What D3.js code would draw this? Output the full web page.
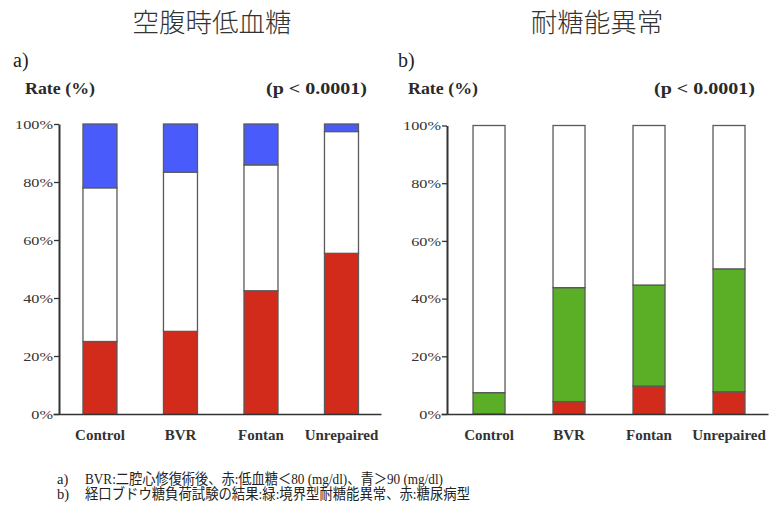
<!DOCTYPE html>
<html>
<head>
<meta charset="utf-8">
<script src="https://cdn.jsdelivr.net/npm/d3@7"></script>
<style>
  html, body { margin: 0; padding: 0; background: #fff; }
  svg { display: block; }
  .serif { font-family: "Liberation Serif", "DejaVu Serif", serif; }
  .note { font-family: "Liberation Serif", "Noto Sans CJK JP", serif; }
</style>
</head>
<body>
<svg id="chart" width="770" height="515"></svg>
<script>
// ---- data ----
const categories = ["Control", "BVR", "Fontan", "Unrepaired"];
// a) fasting hypoglycemia
const hypoLow  = [25.0, 28.5, 42.5, 55.4];   // red  < 80 mg/dl
const hypoMid  = [53.0, 54.9, 43.4, 42.0];   // white
const hypoHigh = [22.0, 16.6, 14.1, 2.6];    // blue > 90 mg/dl
// b) OGTT
const ogttDiabetic   = [0.0, 4.3, 9.7, 7.7];     // red
const ogttBorderline = [7.4, 39.5, 35.0, 42.6];  // green
const ogttNormal     = [92.6, 56.2, 55.3, 49.7]; // white
const yTicks = [0, 20, 40, 60, 80, 100];
const titles = ["空腹時低血糖", "耐糖能異常"];
const panelLabels = ["a)", "b)"];
const pText = "(p < 0.0001)";
const yLabel = "Rate (%)";
const notes = [
  ["a)", "BVR:二腔心修復術後、赤:低血糖＜80 (mg/dl)、青＞90 (mg/dl)"],
  ["b)", "経口ブドウ糖負荷試験の結果:緑:境界型耐糖能異常、赤:糖尿病型"]
];

const RED = "#d22a1b", BLUE = "#4a5bfb", GREEN = "#5aaf27", WHITE = "#ffffff";
const CJK = "Noto Sans CJK JP, Noto Sans CJK SC, sans-serif";

const svg = d3.select("#chart");

const panels = [
  {
    keys: ["low", "mid", "high"],
    colors: { low: RED, mid: WHITE, high: BLUE },
    rows: categories.map((c, i) => ({ cat: c, low: hypoLow[i], mid: hypoMid[i], high: hypoHigh[i] })),
    xRange: [53, 381], pi: 0.5776, po: 0.326, align: 0.571,
    axisX: 59, yRange: [414, 124],
    title: titles[0], titleX: 212, label: panelLabels[0], labelX: 13,
    rateX: 25, pX: 367
  },
  {
    keys: ["dia", "border", "normal"],
    colors: { dia: RED, border: GREEN, normal: WHITE },
    rows: categories.map((c, i) => ({ cat: c, dia: ogttDiabetic[i], border: ogttBorderline[i], normal: ogttNormal[i] })),
    xRange: [441, 768], pi: 0.6, po: 0.344, align: 0.582,
    axisX: 447, yRange: [414, 125.5],
    title: titles[1], titleX: 597, label: panelLabels[1], labelX: 398,
    rateX: 408, pX: 755
  }
];

panels.forEach(p => {
  const x = d3.scaleBand().domain(categories).range(p.xRange)
    .paddingInner(p.pi).paddingOuter(p.po).align(p.align);
  const y = d3.scaleLinear().domain([0, 100]).range(p.yRange);
  const series = d3.stack().keys(p.keys)(p.rows);

  // titles
  svg.append("text").attr("x", p.titleX).attr("y", 32)
    .attr("text-anchor", "middle")
    .attr("font-family", CJK).attr("font-size", 26.5).attr("font-weight", 300)
    .attr("fill", "#333").text(p.title);
  svg.append("text").attr("class", "serif").attr("x", p.labelX).attr("y", 67)
    .attr("font-size", 20).attr("fill", "#222")
    .text(p.label);
  svg.append("text").attr("class", "serif").attr("x", p.rateX).attr("y", 94)
    .attr("font-size", 16).attr("font-weight", "bold")
    .attr("textLength", 70).attr("lengthAdjust", "spacingAndGlyphs")
    .attr("fill", "#2a2a2a").text(yLabel);
  svg.append("text").attr("class", "serif").attr("x", p.pX - 101).attr("y", 94)
    .attr("font-size", 16).attr("font-weight", "bold")
    .attr("textLength", 101).attr("lengthAdjust", "spacingAndGlyphs")
    .attr("fill", "#2a2a2a").text(pText);

  // bars
  const g = svg.append("g");
  g.selectAll("g.series").data(series).join("g").attr("class", "series")
    .attr("fill", d => p.colors[d.key])
    .selectAll("rect").data(d => d).join("rect")
    .attr("x", d => x(d.data.cat))
    .attr("width", x.bandwidth())
    .attr("y", d => y(d[1]))
    .attr("height", d => Math.max(0, y(d[0]) - y(d[1])))
    .attr("stroke", "#5a5a5a").attr("stroke-width", 1.3);

  // x axis
  const xa = svg.append("g").attr("transform", `translate(0,${p.yRange[0]})`)
    .call(d3.axisBottom(x).tickSize(0).tickPadding(15.5));
  xa.attr("font-family", null);
  xa.select(".domain").attr("stroke", "#333").attr("stroke-width", 1.5);
  xa.selectAll("text").attr("class", "serif").attr("font-size", 15)
    .attr("font-weight", "bold").attr("fill", "#333");

  // y axis
  const ya = svg.append("g").attr("transform", `translate(${p.axisX},0)`)
    .call(d3.axisLeft(y).tickValues(yTicks).tickFormat(d => d + "%").tickSize(5).tickSizeOuter(0).tickPadding(1));
  ya.attr("font-family", null);
  ya.select(".domain").attr("stroke", "#333").attr("stroke-width", 2);
  ya.selectAll(".tick line").attr("stroke", "#333").attr("stroke-width", 1.3);
  ya.selectAll("text").attr("class", "serif").attr("font-size", 13).attr("fill", "#333")
    .each(function () {
      const w = this.getComputedTextLength();
      d3.select(this).attr("textLength", w * 1.25).attr("lengthAdjust", "spacingAndGlyphs");
    });
});

// footnotes
const noteWidths = [358, 385];
notes.forEach((n, i) => {
  const yy = 484 + i * 15;
  svg.append("text").attr("class", "serif").attr("x", 57).attr("y", yy)
    .attr("font-size", 14.5).attr("fill", "#222").text(n[0]);
  svg.append("text").attr("class", "note").attr("x", 85).attr("y", yy)
    .attr("textLength", noteWidths[i]).attr("lengthAdjust", "spacingAndGlyphs")
    .attr("font-size", 14.5).attr("fill", "#222")
    .text(n[1]);
});
</script>
</body>
</html>
